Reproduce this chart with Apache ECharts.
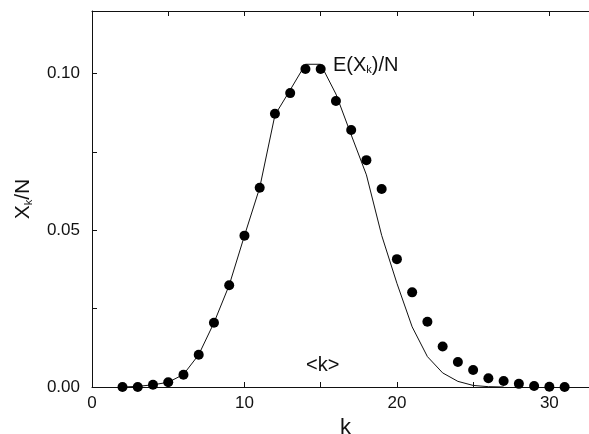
<!DOCTYPE html>
<html lang="en">
<head>
<meta charset="UTF-8" />
<title>Xk/N</title>
</head>
<body>
<style>
* {
  margin: 0;
  padding: 0;
}
#chartEl {
  width: 589px;
  height: 434px;
  background-color: #fff;
}
</style>
<div id="chartEl"></div>
<script src="https://cdn.jsdelivr.net/npm/echarts@6/dist/echarts.min.js"></script>
<script>
// measured points (dots)
const dotK = [2, 3, 4, 5, 6, 7, 8, 9, 10, 11, 12, 13, 14, 15, 16, 17, 18, 19, 20, 21, 22, 23, 24, 25, 26, 27, 28, 29, 30, 31];
const dotVal = [0, 0, 0.0007, 0.0015, 0.0039, 0.0103, 0.0205, 0.0325, 0.0483, 0.0636, 0.0872, 0.0938, 0.1015, 0.1015,
  0.0913, 0.0820, 0.0724, 0.0632, 0.0408, 0.0302, 0.0208, 0.0129, 0.0080, 0.0054, 0.0028, 0.0019, 0.0010, 0.0003, 0.0001, 0];
// expected value curve E(Xk)/N
const curveK = [2, 3, 4, 5, 6, 7, 8, 9, 10, 11, 12, 13, 14, 15, 16, 17, 18, 19, 20, 21, 22, 23, 24, 25, 26, 27];
const curveVal = [0, 0.0002, 0.0007, 0.0015, 0.0040, 0.0103, 0.0205, 0.0325, 0.0483, 0.0636, 0.0868, 0.0948, 0.1030, 0.1030,
  0.0935, 0.0805, 0.0677, 0.0484, 0.0331, 0.0192, 0.0097, 0.0045, 0.0018, 0.0005, 0.0001, 0];
const xLabelStep = 10;
const yLabelStep = 0.05;

const FONT = 'Liberation Sans, Arial, sans-serif';
const INK = '#111';

function pairs(xs, ys) {
  return xs.map((x, i) => [x, ys[i]]);
}
function isStep(v, step) {
  const r = v / step;
  return Math.abs(r - Math.round(r)) < 1e-6;
}

const axisCommon = {
  type: 'value',
  axisLine: { show: true, lineStyle: { color: INK, width: 1 } },
  axisTick: { show: true, inside: true, length: 5, lineStyle: { color: INK } },
  splitLine: { show: false },
};

const myChart = echarts.init(document.getElementById('chartEl'));
myChart.setOption({
  animation: false,
  textStyle: { fontFamily: FONT },
  grid: { left: 92, right: 0, top: 11, bottom: 47, outerBoundsMode: 'none' },
  xAxis: [
    {
      ...axisCommon,
      position: 'bottom',
      min: 0, max: 32.6, interval: 5,
      axisLabel: {
        color: INK, fontSize: 17, margin: 8, showMaxLabel: false,
        formatter: v => (isStep(v, xLabelStep) ? String(v) : ''),
      },
      name: 'k',
      nameLocation: 'middle',
      nameGap: 27,
      nameTextStyle: { color: INK, fontSize: 22, padding: [0, 0, 0, 10] },
    },
    {
      ...axisCommon,
      position: 'top',
      min: 0, max: 32.6, interval: 5,
      axisLabel: { show: false },
    },
  ],
  yAxis: [
    {
      ...axisCommon,
      min: 0, max: 0.12, interval: 0.025,
      axisLabel: {
        color: INK, fontSize: 17, margin: 12,
        formatter: v => (isStep(v, yLabelStep) ? v.toFixed(2) : ''),
      },
      name: '{b|X}{s|k}{b|/N}',
      nameLocation: 'middle',
      nameRotate: 90,
      nameGap: 58,
      nameTextStyle: {
        rich: {
          b: { fontSize: 21, color: INK, fontFamily: FONT },
          s: { fontSize: 11, color: INK, fontFamily: FONT, padding: [10, 0, 0, 0] },
        },
      },
    },
  ],
  graphic: [
    {
      type: 'text',
      left: 333, top: 55,
      style: {
        text: '{b|E(X}{s|k}{b|)/N}',
        rich: {
          b: { fontSize: 20, fill: INK, fontFamily: FONT },
          s: { fontSize: 11, fill: INK, fontFamily: FONT, padding: [10, 0, 0, 0] },
        },
      },
    },
    {
      type: 'text',
      left: 306, top: 355,
      style: { text: '<k>', fontSize: 20, fill: INK, fontFamily: FONT },
    },
  ],
  series: [
    {
      type: 'line',
      data: pairs(curveK, curveVal),
      showSymbol: false,
      smooth: false,
      lineStyle: { color: INK, width: 1 },
      z: 2,
    },
    {
      type: 'scatter',
      data: pairs(dotK, dotVal),
      symbol: 'circle',
      symbolSize: 10,
      itemStyle: { color: '#000', opacity: 1 },
      z: 3,
    },
  ],
});
</script>
</body>
</html>
